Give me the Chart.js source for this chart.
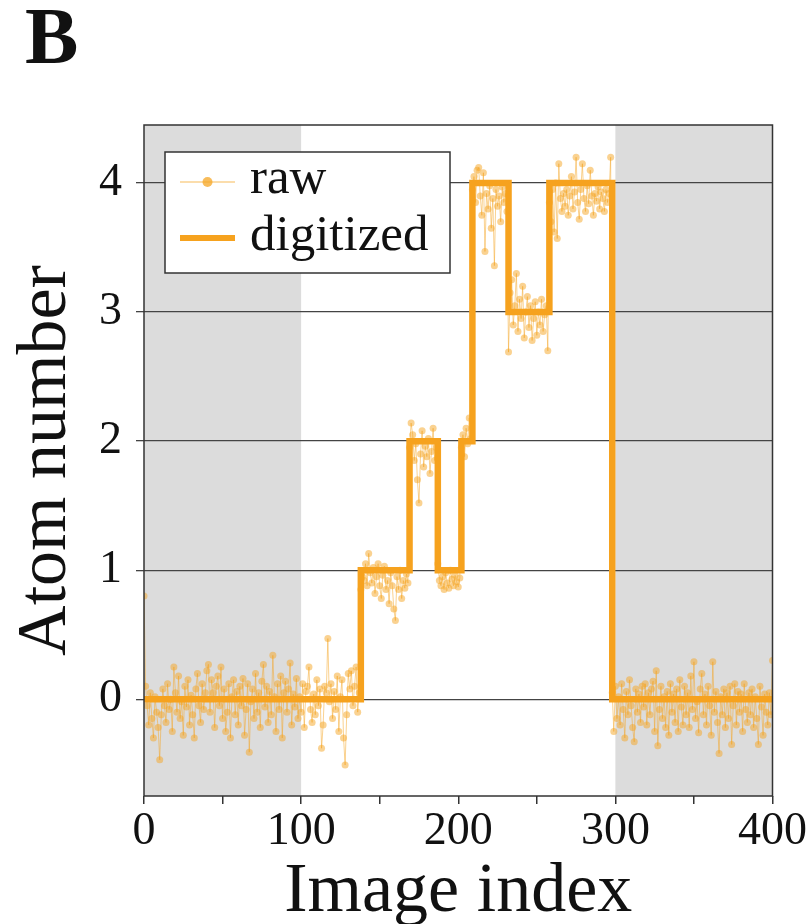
<!DOCTYPE html>
<html>
<head>
<meta charset="utf-8">
<title>Atom number vs image index</title>
<script src="https://cdn.jsdelivr.net/npm/chart.js@4.4.0/dist/chart.umd.min.js"></script>
<style>
  body { margin: 0; background: #fff; }
  #chart { display: block; }
</style>
</head>
<body>
<canvas id="chart" width="812" height="924"></canvas>
<script>
const panelLabel = 'B';
const xTitle = 'Image index';
const yTitle = 'Atom number';
const legendLabels = ['raw', 'digitized'];

const xTickValues = [0, 50, 100, 150, 200, 250, 300, 350, 400];
const xTickLabels = ['0', '', '100', '', '200', '', '300', '', '400'];
const yTickValues = [0, 1, 2, 3, 4];

// grey background bands (image index ranges)
const shadedRanges = [[0, 100], [300, 400]];

const digitizedIndex = [0, 138, 169, 187, 202, 209, 232, 258, 298, 400];
const digitizedLevel = [0, 1, 2, 1, 2, 4, 3, 4, 0, 0];

// raw atom number, one value per image index 0..400
const rawAtomNumber = [
  // 0-137, empty
  0.80, 0.10, -0.05, -0.20, 0.05, -0.15, -0.30, 0.02, -0.10, -0.22, -0.47, -0.12, 0.08, -0.05, -0.18, 0.12, -0.08, 0.00, -0.25, 0.25,
  0.05, -0.10, 0.18, -0.15, -0.02, -0.28, 0.10, -0.06, 0.15, -0.20, 0.03, -0.12, -0.30, 0.08, 0.20, -0.05, -0.18, 0.12, -0.08, 0.05,
  0.22, 0.27, -0.10, 0.15, 0.05, -0.22, 0.10, 0.18, -0.05, 0.25, -0.15, 0.08, -0.25, -0.10, 0.12, -0.30, 0.02, 0.15, -0.12, 0.06,
  -0.20, 0.10, -0.05, 0.16, -0.28, -0.08, 0.12, -0.41, -0.02, 0.08, -0.15, 0.20, -0.10, 0.05, -0.22, 0.14, 0.27, -0.06, 0.10, -0.18,
  0.06, -0.12, 0.34, 0.02, -0.25, 0.12, -0.08, 0.18, -0.30, 0.05, 0.14, -0.10, 0.08, 0.28, -0.20, 0.04, -0.06, 0.16, -0.15, 0.02,
  -0.10, 0.12, -0.22, 0.06, 0.10, 0.25, -0.08, -0.18, 0.04, -0.12, 0.15, -0.05, 0.08, -0.38, -0.20, 0.10, 0.05, 0.47, -0.02, 0.12,
  -0.15, 0.06, -0.08, 0.18, -0.25, 0.02, 0.15, -0.30, -0.51, -0.12, 0.20, 0.08, 0.22, -0.05, 0.10, 0.25, -0.10, 0.05,
  // 138-168, one atom
  0.85, 0.95, 0.92, 1.05, 0.88, 1.13, 0.98, 0.90, 1.02, 0.82, 0.95, 1.05, 0.88, 0.78, 0.96, 1.03, 0.85, 0.92, 0.74, 0.98,
  0.88, 0.70, 0.61, 0.95, 0.85, 1.00, 0.78, 0.92, 0.86, 0.97, 0.90,
  // 169-186, two atoms
  1.95, 2.14, 2.05, 1.85, 1.98, 1.70, 1.52, 1.90, 2.08, 1.80, 1.96, 1.88, 2.02, 1.75, 1.92, 2.10, 1.85, 1.95,
  // 187-201, one atom
  1.05, 0.92, 0.88, 0.95, 0.85, 0.98, 0.90, 0.86, 1.00, 0.93, 0.88, 0.96, 0.91, 0.87, 0.94,
  // 202-208, two atoms
  1.95, 2.05, 1.88, 2.10, 1.98, 2.18, 2.02,
  // 209-231, four atoms
  3.95, 4.05, 3.85, 4.10, 4.12, 3.90, 3.75, 4.08, 3.47, 3.92, 3.80, 3.98, 3.65, 3.88, 3.36, 3.95, 3.82, 3.90, 3.70, 3.97,
  3.85, 3.92, 3.78,
  // 232-257, three atoms
  2.69, 3.15, 3.25, 2.90, 3.05, 3.30, 2.85, 3.10, 2.95, 3.20, 2.80, 3.00, 3.12, 2.88, 3.05, 2.78, 2.95, 3.08, 2.82, 3.00,
  2.90, 3.10, 2.85, 2.98, 3.05, 2.70,
  // 258-297, four atoms
  3.85, 3.70, 3.95, 3.62, 4.00, 3.57, 4.15, 3.88, 3.78, 3.92, 3.82, 3.95, 3.75, 3.90, 4.05, 3.80, 3.93, 4.20, 3.85, 3.72,
  3.95, 4.15, 3.88, 3.78, 3.98, 3.84, 4.10, 3.90, 3.75, 3.92, 3.86, 3.97, 3.80, 3.93, 3.88, 3.78, 3.95, 3.85, 3.92, 4.20,
  // 298-400, empty
  0.05, -0.25, 0.10, -0.15, 0.02, -0.20, 0.12, -0.08, -0.30, 0.06, -0.12, 0.15, -0.05, -0.22, -0.33, 0.08, -0.10, 0.04, -0.18, 0.10,
  -0.06, 0.12, -0.20, 0.05, -0.12, 0.08, 0.14, -0.25, 0.22, -0.36, -0.08, 0.10, -0.15, 0.02, -0.22, 0.06, -0.28, 0.12, -0.10, 0.04,
  -0.18, 0.08, -0.25, 0.15, -0.06, -0.20, 0.10, -0.12, 0.05, -0.22, 0.18, -0.08, 0.29, -0.15, -0.02, -0.26, 0.08, 0.20, -0.12, 0.04,
  -0.20, 0.10, -0.05, -0.28, 0.29, -0.10, 0.06, -0.18, -0.42, 0.02, -0.12, 0.08, -0.22, 0.05, -0.15, 0.10, -0.35, -0.05, 0.12, -0.20,
  0.06, -0.10, 0.04, -0.25, 0.12, -0.08, -0.18, 0.05, -0.12, 0.08, -0.22, 0.02, -0.15, -0.35, 0.10, -0.06, -0.28, 0.04, -0.10, -0.20,
  0.05, -0.12, 0.30
];

const serif = "'Liberation Serif', 'DejaVu Serif', serif";
const orange = '#f6a21e';
const orangeLight = 'rgba(246, 166, 35, 0.5)';
const ink = '#111';
const gridColor = '#444';

// grey bands behind the grid
const bandsPlugin = {
  id: 'bands',
  beforeDraw(chart) {
    const { ctx, chartArea, scales } = chart;
    ctx.save();
    ctx.fillStyle = '#dcdcdc';
    shadedRanges.forEach(([a, b]) => {
      const x0 = scales.x.getPixelForValue(a);
      const x1 = scales.x.getPixelForValue(b);
      ctx.fillRect(x0, chartArea.top, x1 - x0, chartArea.bottom - chartArea.top);
    });
    ctx.restore();
  }
};

// frame, legend box and panel letter
const decorPlugin = {
  id: 'decor',
  afterDatasetsDraw(chart) {
    const { ctx, chartArea } = chart;
    ctx.save();
    ctx.strokeStyle = '#333';
    ctx.lineWidth = 1.5;
    ctx.strokeRect(chartArea.left, chartArea.top, chartArea.right - chartArea.left, chartArea.bottom - chartArea.top);

    // legend
    const bx = chartArea.left + 21, by = chartArea.top + 27, bw = 285, bh = 121;
    ctx.fillStyle = '#fff';
    ctx.fillRect(bx, by, bw, bh);
    ctx.strokeStyle = '#333';
    ctx.lineWidth = 1.5;
    ctx.strokeRect(bx, by, bw, bh);

    const lx0 = bx + 15, lx1 = bx + 70;
    const y1 = by + 30, y2 = by + 86;
    ctx.strokeStyle = orangeLight;
    ctx.lineWidth = 1.5;
    ctx.beginPath(); ctx.moveTo(lx0, y1); ctx.lineTo(lx1, y1); ctx.stroke();
    ctx.fillStyle = 'rgba(246, 166, 35, 0.75)';
    ctx.beginPath(); ctx.arc((lx0 + lx1) / 2, y1, 5, 0, Math.PI * 2); ctx.fill();

    ctx.strokeStyle = orange;
    ctx.lineWidth = 6;
    ctx.beginPath(); ctx.moveTo(lx0, y2); ctx.lineTo(lx1, y2); ctx.stroke();

    ctx.fillStyle = ink;
    ctx.font = '51px ' + serif;
    ctx.textBaseline = 'alphabetic';
    ctx.textAlign = 'left';
    ctx.fillText(legendLabels[0], bx + 85, y1 + 11);
    ctx.fillText(legendLabels[1], bx + 85, y2 + 12);

    ctx.font = 'bold 80px ' + serif;
    ctx.fillText(panelLabel, 25, 63);
    ctx.restore();
  }
};

const ctx = document.getElementById('chart').getContext('2d');

new Chart(ctx, {
  type: 'line',
  data: {
    datasets: [
      {
        label: legendLabels[1],
        data: digitizedIndex.map((x, i) => ({ x: x, y: digitizedLevel[i] })),
        stepped: 'before',
        borderColor: orange,
        borderWidth: 6.5,
        pointRadius: 0,
        fill: false
      },
      {
        label: legendLabels[0],
        data: rawAtomNumber.map((y, i) => ({ x: i, y: y })),
        borderColor: orangeLight,
        borderWidth: 1,
        pointRadius: 3.5,
        pointBorderWidth: 0,
        pointBackgroundColor: orangeLight,
        tension: 0,
        fill: false
      }
    ]
  },
  options: {
    responsive: false,
    animation: false,
    devicePixelRatio: 1,
    layout: { padding: { top: 125, right: 36, left: 0, bottom: 0 } },
    plugins: {
      legend: { display: false },
      tooltip: { enabled: false }
    },
    scales: {
      x: {
        type: 'linear',
        min: 0,
        max: 400,
        afterBuildTicks: s => { s.ticks = xTickValues.map(v => ({ value: v })); },
        afterFit: s => { s.height = 128; },
        border: { display: false },
        grid: { drawOnChartArea: false, drawTicks: true, tickLength: 8, color: '#333', lineWidth: 1.5 },
        ticks: {
          callback: (v, i) => xTickLabels[i],
          color: ink,
          padding: 5,
          maxRotation: 0,
          autoSkip: false,
          font: { family: serif, size: 46, lineHeight: 1 }
        },
        title: {
          display: true,
          text: xTitle,
          color: ink,
          padding: { top: 0, bottom: 0 },
          font: { family: serif, size: 70, lineHeight: 0.9 }
        }
      },
      y: {
        type: 'linear',
        min: -0.75,
        max: 4.45,
        afterBuildTicks: s => { s.ticks = yTickValues.map(v => ({ value: v })); },
        afterFit: s => { s.width = 144; },
        border: { display: false },
        grid: { drawOnChartArea: true, drawTicks: true, tickLength: 8, color: gridColor, lineWidth: 1.3 },
        ticks: {
          color: ink,
          padding: 14,
          font: { family: serif, size: 46, lineHeight: 1 }
        },
        title: {
          display: true,
          text: yTitle,
          color: ink,
          padding: { top: 15, bottom: 0 },
          font: { family: serif, size: 70, lineHeight: 0.9 }
        }
      }
    }
  },
  plugins: [bandsPlugin, decorPlugin]
});
</script>
</body>
</html>
